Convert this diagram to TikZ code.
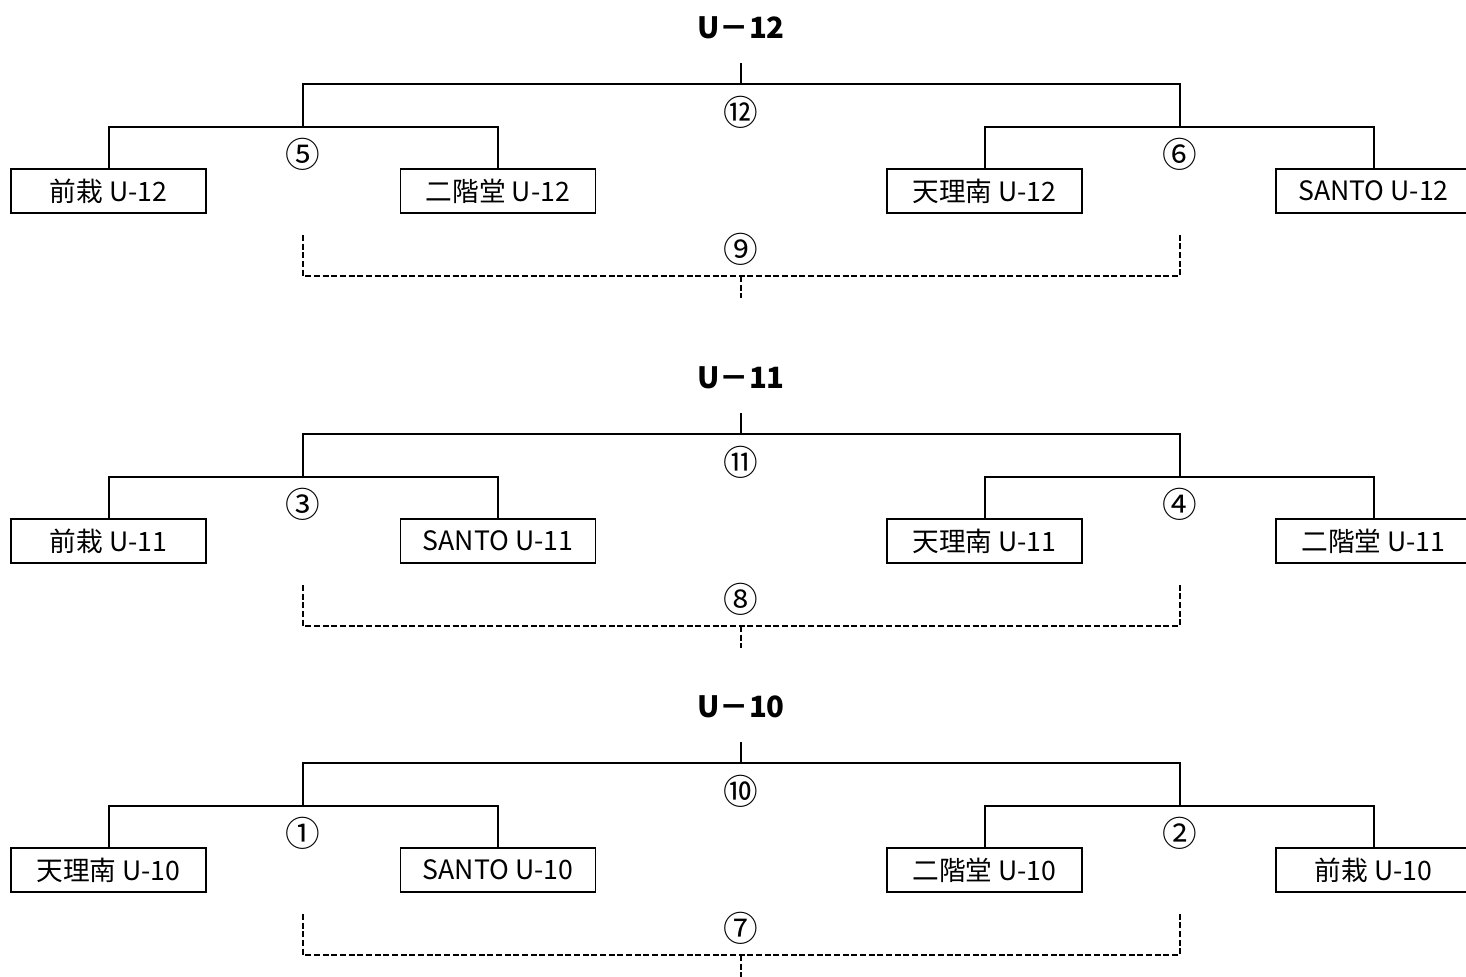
\documentclass[tikz,border=0pt]{standalone}
\usepackage{fontspec}
\setmainfont{Noto Sans CJK JP}

\tikzset{
  team/.style={draw, line width=1.2pt, minimum width=146pt, minimum height=33pt,
    inner sep=0pt, font=\fontsize{20}{22}\selectfont},
  match/.style={inner sep=0pt, font=\fontsize{26}{28}\selectfont},
  title/.style={inner sep=0pt, font=\bfseries\fontsize{22}{24}\selectfont},
  line/.style={line width=1.5pt},
  tbd/.style={line width=1.3pt, dash pattern=on 4.5pt off 2pt}
}

\begin{document}
\begin{tikzpicture}[x=0.75pt,y=-0.75pt]

\useasboundingbox (0,0) rectangle (1466,976);

% one bracket for each age group
\foreach \oy/\age/\fin/\sa/\sb/\th/\ta/\tb/\tc/\td in {
    0/12/⑫/⑤/⑥/⑨/前栽/二階堂/天理南/SANTO,
    350/11/⑪/③/④/⑧/前栽/SANTO/天理南/二階堂,
    679/10/⑩/①/②/⑦/天理南/SANTO/二階堂/前栽}{
\begin{scope}[yshift=-\oy*0.75pt]

% title
\node[title] (head\age) at (741,28) {U－\age};

% teams
\node[team] (ta\age) at (108.5,191) {\ta\ U-\age};
\node[team] (tb\age) at (498,191) {\tb\ U-\age};
\node[team] (tc\age) at (984.5,191) {\tc\ U-\age};
\node[team] (td\age) at (1373.5,191) {\td\ U-\age};

% junctions
\coordinate (top\age) at (741,63);
\coordinate (fin\age) at (741,84);
\coordinate (sl\age) at (303,127);
\coordinate (sr\age) at (1180,127);
\coordinate (dl\age) at (303,235);
\coordinate (dr\age) at (1180,235);
\coordinate (db\age) at (741,276);
\coordinate (de\age) at (741,298);

% match numbers
\node[match] (mf\age) at (741,112) {\fin};
\node[match] (ma\age) at (303,154) {\sa};
\node[match] (mb\age) at (1180,154) {\sb};
\node[match] (mt\age) at (741,249) {\th};

% bracket lines
\draw[line] (ta\age.north) |- (sl\age) -| (tb\age.north);
\draw[line] (tc\age.north) |- (sr\age) -| (td\age.north);
\draw[line] (sl\age) |- (fin\age) -| (sr\age);
\draw[line] (fin\age) -- (top\age);

% third place match
\draw[tbd] (dl\age) |- (db\age) -| (dr\age);
\draw[tbd] (db\age) -- (de\age);

\end{scope}
}

\end{tikzpicture}
\end{document}
